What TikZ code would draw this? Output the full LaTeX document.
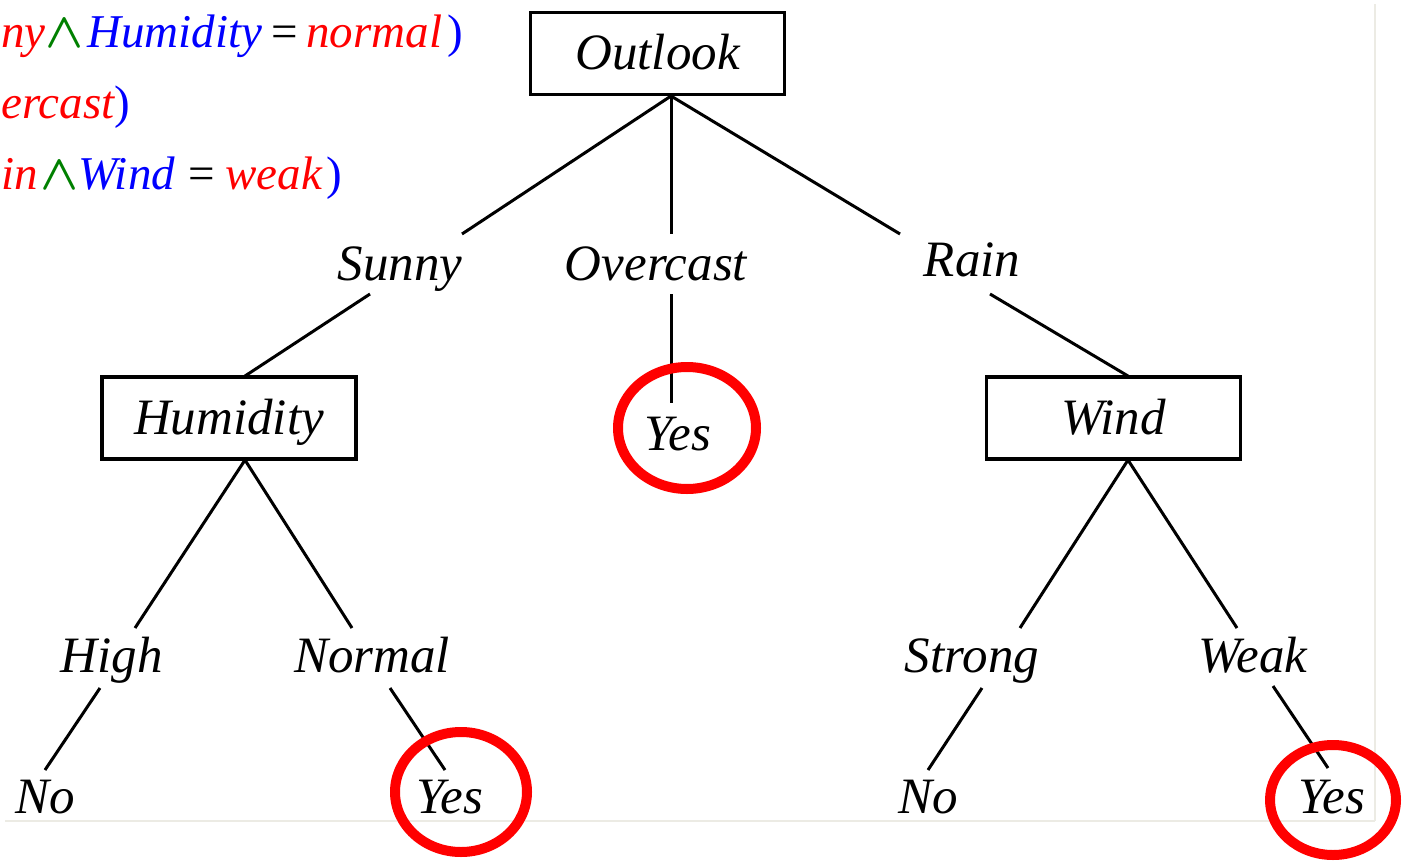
\documentclass[tikz,border=0pt]{standalone}
\usepackage{amsmath}
\usepackage{fontspec}
\setmainfont{Liberation Serif}
\definecolor{eqred}{RGB}{255,0,0}
\definecolor{eqblue}{RGB}{0,0,255}
\definecolor{eqgreen}{RGB}{0,128,0}
\definecolor{frame}{RGB}{236,235,228}
\begin{document}
\begin{tikzpicture}[x=0.5pt,y=-0.5pt,
  lbl/.style={font=\fontsize{25.5}{30}\selectfont\itshape, inner sep=0pt, anchor=base},
  eq/.style={font=\fontsize{23.5}{28}\selectfont, inner sep=0pt, anchor=base west},
  treebox/.style={draw, line width=1.7pt, minimum width=127pt, minimum height=41pt, inner sep=0pt,
    font=\fontsize{25.5}{30}\selectfont\itshape, text height=18pt, text depth=2pt},
  branch/.style={line width=1.5pt},
  ring/.style={draw=eqred, line width=5pt}]
\useasboundingbox (0,0) rectangle (1409,867);

% faint frame of the screenshot
\draw[frame, line width=1.2pt] (1375,4) -- (1375,821);
\draw[frame, line width=1.2pt] (5,821) -- (1375,821);

% rule text
\node[eq, text=eqred] (e1a) at (1,47) {\itshape ny};
\node[eq, text=eqgreen] (e1b) at (45,47) {$\boldsymbol{\wedge}$};
\node[eq, text=eqblue] (e1c) at (87,47) {\itshape Humidity};
\node[eq] (e1d) at (271,47) {=};
\node[eq, text=eqred] (e1e) at (306,47) {\itshape normal};
\node[eq, text=eqblue] (e1f) at (447,47) {)};

\node[eq, text=eqred] (e2a) at (1,118) {\itshape ercast};
\node[eq, text=eqblue] (e2b) at (114,118) {)};

\node[eq, text=eqred] (e3a) at (1,189) {\itshape in};
\node[eq, text=eqgreen] (e3b) at (40,189) {$\boldsymbol{\wedge}$};
\node[eq, text=eqblue] (e3c) at (78,189) {\itshape Wind};
\node[eq] (e3d) at (188,189) {=};
\node[eq, text=eqred] (e3e) at (225,189) {\itshape weak};
\node[eq, text=eqblue] (e3f) at (326,189) {)};

% decision nodes
\node[treebox] (outlook) at (657.5,53.5) {Outlook};
\node[treebox] (humidity) at (229,418) {Humidity};
\node[treebox] (wind) at (1113.5,418) {Wind};

% branch labels
\node[lbl] (sunny) at (400,280) {Sunny};
\node[lbl] (overcast) at (656,280) {Overcast};
\node[lbl] (rain) at (972,276) {Rain};
\node[lbl] (high) at (112,672) {High};
\node[lbl] (normal) at (372,672) {Normal};
\node[lbl] (strong) at (972,672) {Strong};
\node[lbl] (weak) at (1253,672) {Weak};

% leaves
\node[lbl] (yes1) at (678,450) {Yes};
\node[lbl] (no1) at (45,813) {No};
\node[lbl] (yes2) at (450,813) {Yes};
\node[lbl] (no2) at (928,813) {No};
\node[lbl] (yes3) at (1332,813) {Yes};

% connector end points
\coordinate (oB) at (671,96);
\coordinate (sT) at (462,234);
\coordinate (ocT) at (671,234);
\coordinate (rT) at (900,234);
\coordinate (sB) at (370,294);
\coordinate (hT) at (245,376);
\coordinate (ocB) at (671,294);
\coordinate (y1T) at (671,403);
\coordinate (rB) at (990,294);
\coordinate (wT) at (1128,376);
\coordinate (hB) at (245,460);
\coordinate (hiT) at (135,628);
\coordinate (nT) at (352,628);
\coordinate (hiB) at (100,688);
\coordinate (no1T) at (45,770);
\coordinate (nB) at (390,688);
\coordinate (y2T) at (445,770);
\coordinate (wB) at (1128,460);
\coordinate (stT) at (1020,628);
\coordinate (wkT) at (1237,628);
\coordinate (stB) at (982,688);
\coordinate (no2T) at (928,770);
\coordinate (wkB) at (1273,686);
\coordinate (y3T) at (1328,768);

\draw[branch] (oB) -- (sT);
\draw[branch] (oB) -- (ocT);
\draw[branch] (oB) -- (rT);
\draw[branch] (sB) -- (hT);
\draw[branch] (ocB) -- (y1T);
\draw[branch] (rB) -- (wT);
\draw[branch] (hB) -- (hiT);
\draw[branch] (hB) -- (nT);
\draw[branch] (hiB) -- (no1T);
\draw[branch] (nB) -- (y2T);
\draw[branch] (wB) -- (stT);
\draw[branch] (wB) -- (wkT);
\draw[branch] (stB) -- (no2T);
\draw[branch] (wkB) -- (y3T);

% red rings round the positive leaves
\draw[ring] (687,428) ellipse [x radius=69, y radius=61];
\draw[ring] (461,792) ellipse [x radius=66, y radius=60];
\draw[ring] (1333,800) ellipse [x radius=63, y radius=55];
\end{tikzpicture}
\end{document}
